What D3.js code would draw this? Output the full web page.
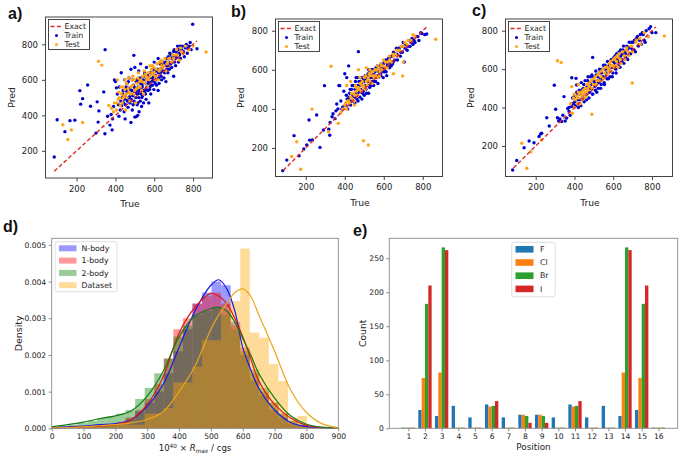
<!DOCTYPE html>
<html><head><meta charset="utf-8">
<script src="https://cdn.jsdelivr.net/npm/d3@7"></script>
<style>body{margin:0;background:#fff}</style>
</head><body>
<script>
// ---------------- DATA ----------------
const exactLine = [85, 820];
const trainA = [[85,165],[100,375],[140,308],[166,370],[191,373],[217,539],[221,463],[231,494],[257,571],[272,451],[300,300],[306,476],[311,362],[315,425],[340,532],[346,296],[347,770],[383,318],[360,395],[372,345],[378,405],[385,380],[390,450],[395,600],[400,590],[405,555],[410,520],[415,460],[418,395],[420,560],[425,430],[428,480],[430,640],[435,500],[440,540],[442,470],[445,420],[448,600],[450,510],[452,460],[455,560],[458,490],[460,580],[462,530],[465,445],[468,500],[470,610],[472,555],[475,470],[478,520],[480,660],[482,490],[485,540],[487,430],[490,510],[492,570],[495,738],[496,480],[498,530],[500,390],[500,670],[502,550],[505,500],[508,393],[510,600],[512,460],[514,520],[515,400],[517,560],[520,650],[520,500],[522,420],[525,540],[528,480],[530,690],[530,580],[533,520],[535,450],[538,560],[540,510],[543,600],[545,470],[548,540],[550,640],[552,580],[555,520],[558,490],[560,670],[562,560],[565,600],[568,540],[570,580],[572,470],[575,620],[578,560],[580,610],[582,520],[585,590],[588,640],[590,570],[595,600],[598,545],[600,700],[602,630],[605,580],[610,650],[615,600],[620,720],[622,640],[625,580],[630,660],[635,620],[640,690],[645,650],[650,610],[655,680],[660,700],[665,660],[670,640],[675,700],[680,750],[685,690],[690,670],[695,720],[700,760],[705,700],[710,680],[715,730],[720,790],[725,700],[730,740],[735,720],[740,770],[750,760],[755,730],[760,780],[770,750],[780,790],[790,770],[798,913],[820,775],[480,360],[450,380],[620,540],[660,590],[700,620],
[432,455],[438,520],[446,490],[454,540],[463,480],[467,590],[473,505],[477,545],[483,515],[488,600],[491,460],[497,560],[503,525],[507,590],[511,540],[516,470],[519,590],[523,525],[527,610],[532,555],[536,500],[541,575],[546,620],[551,535],[556,600],[561,545],[566,625],[571,590],[576,545],[581,640],[586,570],[591,615],[596,660],[601,590],[607,625],[612,570],[617,660],[623,610],[628,690],[633,640],[638,600],[643,670],[648,700],[653,640],[658,690],[663,720],[668,680],[673,730],[678,660],[683,720],[688,740],[693,700],[698,730],[703,770],[708,720],[713,760],[718,740],[723,770],[728,750],[733,790],[745,790],[765,800],[775,780],[785,810]];
const testA = [[130,347],[155,264],[173,318],[231,360],[313,704],[330,683],[867,757],[366,456],[380,440],[390,420],[395,470],[405,430],[410,600],[415,490],[420,500],[425,455],[430,520],[435,470],[440,560],[445,510],[450,600],[452,430],[455,520],[460,500],[465,550],[470,530],[475,480],[480,560],[485,600],[490,620],[495,520],[500,540],[505,470],[510,580],[515,610],[520,560],[525,590],[530,600],[535,540],[540,620],[545,520],[550,580],[555,630],[560,600],[565,560],[570,640],[575,600],[580,620],[585,660],[590,680],[595,630],[600,640],[605,600],[610,660],[615,690],[620,600],[625,650],[630,660],[635,710],[640,700],[645,670],[650,680],[660,650],[665,690],[670,700],[680,720],[690,700],[700,720],[710,740],[720,740],[730,710],[740,760],[750,750],[760,790],[780,770],[800,790],
[408,470],[418,530],[428,560],[438,495],[448,545],[458,580],[468,610],[478,520],[488,570],[498,600],[508,550],[518,640],[528,560],[538,590],[548,650],[558,620],[568,610],[578,680],[588,640],[598,670],[608,620],[618,690],[628,700],[638,680],[655,720],[675,720],[695,740],[715,770],[735,780]];
const trainB = [[82,84],[103,138],[140,263],[166,160],[190,195],[205,215],[220,240],[234,241],[217,343],[256,369],[273,203],[291,292],[296,519],[318,296],[323,265],[325,330],[335,360],[340,375],[350,350],[355,390],[359,425],[365,400],[370,520],[374,519],
[380,440],[385,400],[390,410],[395,490],[400,580],[405,420],[410,560],[412,450],[415,400],[420,620],[422,460],[425,480],[430,420],[435,500],[440,440],[442,470],[445,520],[450,460],[452,430],[455,540],[460,480],[462,450],[465,560],[468,440],[470,693],[472,490],[475,520],[478,460],[480,540],[482,500],[485,530],[488,450],[490,520],[493,560],[495,490],[498,540],[500,470],[502,520],[505,570],[508,500],[510,550],[512,480],[515,560],[518,520],[520,580],[522,480],[525,540],[528,510],[530,590],[532,560],[535,520],[538,570],[540,540],[545,600],[548,520],[550,560],[555,590],[558,540],[560,610],[565,570],[568,610],[570,530],[575,590],[580,620],[585,570],[590,610],[595,590],[600,630],[605,590],[610,650],[615,570],[620,630],[625,660],[630,610],[640,670],[645,630],[650,690],[655,650],[660,680],[665,710],[670,650],[680,700],[685,670],[690,720],[695,690],[700,740],[705,640],[710,710],[720,700],[730,750],[735,720],[740,740],[750,730],[760,740],[770,770],[780,750],[790,790],[795,786],[810,780],[820,783],[560,560],[620,620],[580,590],[540,540],[600,600],
[402,420],[408,470],[418,450],[428,500],[432,440],[438,520],[447,470],[453,500],[458,560],[463,520],[467,480],[473,540],[477,500],[483,560],[487,520],[492,480],[497,550],[503,540],[507,500],[513,570],[517,540],[523,600],[527,520],[533,540],[537,600],[542,560],[547,580],[552,540],[557,600],[562,570],[567,620],[572,560],[577,610],[582,580],[587,630],[592,600],[597,560],[603,640],[607,610],[612,590],[618,650],[622,620],[628,660],[633,630],[638,620],[643,670],[648,640],[658,680],[668,680],[678,710],[688,690],[698,720],[712,730],[725,720],[745,760],[755,750],[765,770],[775,770]];
const testB = [[128,156],[154,232],[174,91],[232,399],[316,283],[330,618],[367,326],[496,237],[521,215],[697,568],[866,756],
[380,380],[390,400],[400,420],[410,400],[420,440],[425,430],[430,460],[440,450],[445,480],[450,470],[455,520],[460,490],[465,470],[470,510],[475,500],[480,530],[485,490],[490,540],[495,520],[500,560],[505,500],[510,540],[515,520],[520,560],[525,580],[530,540],[535,570],[540,530],[545,590],[550,560],[555,600],[560,570],[565,600],[570,560],[575,610],[580,590],[585,630],[590,600],[600,620],[610,610],[620,640],[630,650],[640,640],[650,670],[660,680],[670,670],[680,700],[700,720],[720,730],[740,750],[760,770],[650,580],[700,640],[450,420],[410,520],[430,540],[470,600],[510,610],
[405,430],[415,440],[435,480],[448,440],[458,510],[468,500],[478,560],[488,520],[498,510],[508,570],[518,550],[528,600],[538,590],[548,570],[558,600],[568,620],[578,570],[588,620],[598,650],[608,640],[618,610],[628,670],[648,680],[668,700],[688,720],[708,740],[725,750],[750,780]];
const trainC = [[81,75],[102,124],[140,191],[166,226],[191,217],[217,249],[225,262],[231,266],[257,347],[270,304],[296,516],[303,391],[312,347],[318,330],[325,340],[334,327],[340,360],[346,457],[352,330],[360,345],[365,395],[372,400],[378,360],[385,420],[386,555],[390,450],[395,420],
[400,455],[405,410],[408,552],[411,517],[415,470],[420,400],[425,490],[430,440],[435,530],[440,460],[445,500],[450,430],[455,540],[460,470],[465,510],[470,560],[475,450],[480,530],[485,500],[490,570],[494,661],[495,470],[500,540],[505,510],[510,590],[515,480],[520,560],[525,530],[530,600],[535,500],[540,580],[545,550],[550,620],[555,520],[560,600],[565,570],[570,640],[575,550],[580,620],[585,590],[590,650],[595,560],[600,640],[605,610],[610,670],[615,580],[620,650],[625,620],[630,690],[635,610],[640,670],[645,640],[650,700],[655,630],[660,690],[665,660],[670,720],[675,650],[680,710],[690,680],[695,740],[700,700],[710,750],[715,690],[720,760],[730,720],[740,780],[745,730],[750,790],[760,750],[770,800],[780,770],[793,821],[800,790],[820,790],[385,405],[398,455],[372,380],[420,420],
[402,430],[412,480],[418,440],[428,470],[433,410],[438,490],[443,450],[448,520],[453,470],[458,500],[463,440],[468,540],[473,500],[478,480],[483,560],[488,520],[493,470],[498,560],[503,530],[508,490],[513,570],[518,540],[523,500],[528,580],[533,550],[538,520],[543,600],[548,560],[553,530],[558,620],[563,580],[568,550],[573,610],[578,600],[583,560],[588,640],[593,610],[598,580],[603,660],[608,630],[613,600],[618,680],[623,640],[628,610],[633,660],[638,700],[643,650],[648,680],[653,720],[663,680],[673,700],[683,740],[693,710],[703,740],[708,700],[725,770],[735,750],[755,780],[765,740],[785,810]];
const testC = [[128,214],[154,84],[174,170],[231,231],[312,644],[331,635],[490,365],[698,528],[864,772],[386,509],[398,470],[420,520],
[380,420],[390,370],[395,450],[400,400],[410,460],[415,420],[420,450],[430,420],[435,480],[440,440],[445,490],[450,450],[455,500],[460,460],[465,520],[470,490],[480,530],[490,500],[500,550],[510,520],[520,570],[530,540],[540,590],[550,550],[560,610],[570,570],[580,630],[590,590],[600,650],[605,610],[610,660],[615,620],[620,670],[625,610],[630,680],[640,630],[650,690],[660,650],[670,710],[680,670],[690,720],[700,690],[720,750],[740,730],[760,790],[780,770],[420,480],[575,590],[585,615],
[405,440],[425,470],[437,460],[447,470],[457,480],[467,500],[477,510],[487,540],[497,520],[507,560],[517,540],[527,580],[537,560],[547,600],[557,580],[567,610],[577,600],[587,640],[597,620],[607,650],[617,640],[627,660],[637,650],[647,690],[657,670],[667,700],[677,690],[697,720],[717,740],[737,760]];
const scatterTicks = [200, 400, 600, 800];

// panel d
const modelBinLeft = [22,52,82,112,142,172,202,232,262,292,322,352,382,412,442,472,502,532,562,592,622,652,682,712,742,772,802,832];
const histNbody = [0,0.00003,0.00005,0.00008,0.0001,0.00012,0.00016,0.00025,0.00045,0.0007,0.001,0.0015,0.0021,0.0027,0.0034,0.0037,0.0040,0.0039,0.0029,0.0020,0.0013,0.0009,0.0005,0.0003,0.00012,0.00006,0.00002,0];
const hist1body = [0,0.00002,0.00003,0.00005,0.00007,0.0001,0.00015,0.0003,0.0005,0.0008,0.0012,0.0019,0.0027,0.003,0.0034,0.0036,0.0037,0.0034,0.0028,0.0022,0.0015,0.001,0.0007,0.0004,0.0002,0.00008,0.00003,0];
const hist2body = [0.00005,0.0001,0.00015,0.0002,0.00028,0.00032,0.0004,0.0005,0.0008,0.0011,0.0015,0.0019,0.0025,0.0028,0.0031,0.0032,0.0033,0.0031,0.0027,0.0021,0.0016,0.0011,0.0007,0.0004,0.0002,0.0001,0.00003,0];
const dataBinLeft = [82,112,142,172,202,232,262,292,322,352,382,412,442,472,502,532,562,592,622,652,682,712,742,772,802,832];
const histDataset = [0.00003,0.00005,0.0001,0.0001,0.0001,0.0001,0.0001,0.0004,0.0004,0.00055,0.00125,0.00125,0.00168,0.0024,0.0024,0.0033,0.00347,0.0049,0.00261,0.00247,0.00175,0.00129,0.00029,0.00034,0,0.00003];
const binWidth = 30;
const kdeX = [0,50,100,150,200,250,300,350,400,450,500,525,550,575,600,625,650,700,750,800,850,900];
const kdeNbody = [0.00002,0.00004,0.00006,0.0001,0.00013,0.00024,0.0006,0.0012,0.0022,0.0032,0.0039,0.00405,0.0038,0.0032,0.0022,0.0016,0.0011,0.0005,0.00016,0.00005,0.00001,0];
const kde1body = [0.00001,0.00002,0.00004,0.00006,0.0001,0.00024,0.00065,0.0014,0.0026,0.0033,0.00368,0.0036,0.0034,0.003,0.0025,0.0019,0.0013,0.00065,0.00028,0.00008,0.00002,0];
const kde2body = [0.00004,0.0001,0.00017,0.00026,0.00034,0.00048,0.00088,0.00155,0.0025,0.00306,0.00326,0.0033,0.0032,0.0029,0.00245,0.002,0.0015,0.00082,0.00034,0.00011,0.00003,0.00001];
const kdeDataset = [0.00001,0.00002,0.00004,0.00007,0.0001,0.00015,0.00024,0.00045,0.001,0.0017,0.0027,0.0031,0.0034,0.0037,0.0038,0.0036,0.0031,0.0021,0.00105,0.00043,0.00012,0.00002];
const distLabels = ["N-body","1-body","2-body","Dataset"];
const dTicksX = [0,100,200,300,400,500,600,700,800,900];
const dTicksY = [0,0.001,0.002,0.003,0.004,0.005];

// panel e
const positions = [1,2,3,4,5,6,7,8,9,10,11,12,13,14,15,16];
const halogens = ["F","Cl","Br","I"];
const countF  = [1,27,18,33,16,35,16,20,20,16,35,16,33,18,27,1];
const countCl = [1,74,82,1,1,32,1,20,20,1,32,1,1,82,74,1];
const countBr = [1,183,266,1,1,33,1,18,18,1,33,1,1,266,183,1];
const countI  = [1,210,262,1,1,40,1,8,8,1,40,1,1,262,210,1];
const eTicksY = [0,50,100,150,200,250];

// ---------------- DRAW ----------------
const FONT = '"DejaVu Sans", sans-serif';
const svg = d3.select("body").append("svg").attr("width",693).attr("height",456)
  .style("font-family",FONT);

function styleAxis(g, color, fs){
  g.attr("font-family",FONT).attr("font-size",fs);
  g.select(".domain").remove();
  g.selectAll(".tick line").attr("stroke",color);
  g.selectAll(".tick text").attr("fill","#222");
}
function frame(l,t,r,b,color,w){
  svg.append("rect").attr("x",l).attr("y",t).attr("width",r-l).attr("height",b-t)
    .attr("fill","none").attr("stroke",color).attr("stroke-width",w);
}

function scatterPanel(o){
  const x = d3.scaleLinear().domain(o.xd).range([o.l,o.r]);
  const y = d3.scaleLinear().domain(o.yd).range([o.b,o.t]);
  const g = svg.append("g");
  g.selectAll("circle.tr").data(o.train).join("circle").attr("class","tr")
    .attr("cx",d=>x(d[0])).attr("cy",d=>y(d[1])).attr("r",1.7).attr("fill","#0000cc");
  g.selectAll("circle.te").data(o.test).join("circle").attr("class","te")
    .attr("cx",d=>x(d[0])).attr("cy",d=>y(d[1])).attr("r",1.7).attr("fill","#ffa51a");
  g.append("line").attr("x1",x(exactLine[0])).attr("y1",y(exactLine[0]))
    .attr("x2",x(exactLine[1])).attr("y2",y(exactLine[1]))
    .attr("stroke","#dd2a2a").attr("stroke-width",1.4).attr("stroke-dasharray","4,2.4");
  frame(o.l,o.t,o.r,o.b,"#444",1);
  const ax = svg.append("g").attr("transform",`translate(0,${o.b})`)
    .call(d3.axisBottom(x).tickValues(scatterTicks).tickSize(3.5).tickPadding(4));
  styleAxis(ax,"#444",8.5);
  const ay = svg.append("g").attr("transform",`translate(${o.l},0)`)
    .call(d3.axisLeft(y).tickValues(scatterTicks).tickSize(3.5).tickPadding(4));
  styleAxis(ay,"#444",8.5);
  svg.append("text").attr("x",(o.l+o.r)/2+1).attr("y",o.b+29).attr("text-anchor","middle")
    .attr("font-size",9.2).attr("fill","#222").text("True");
  svg.append("text").attr("transform",`translate(${o.py},${(o.t+o.b)/2}) rotate(-90)`)
    .attr("text-anchor","middle").attr("dy","0.35em").attr("font-size",9.2).attr("fill","#222").text("Pred");
  // legend
  const lx=o.l+3, ly=o.t+2.5;
  svg.append("rect").attr("x",lx).attr("y",ly).attr("width",41).attr("height",30)
    .attr("fill","#fff").attr("stroke","#333").attr("stroke-width",0.9);
  svg.append("line").attr("x1",lx+2).attr("x2",lx+14).attr("y1",ly+7).attr("y2",ly+7)
    .attr("stroke","#dd2a2a").attr("stroke-width",1.4).attr("stroke-dasharray","4,2.4");
  svg.append("circle").attr("cx",lx+8).attr("cy",ly+16).attr("r",1.5).attr("fill","#0000cc");
  svg.append("circle").attr("cx",lx+8).attr("cy",ly+25).attr("r",1.5).attr("fill","#ffa51a");
  ["Exact","Train","Test"].forEach((t,i)=>{
    svg.append("text").attr("x",lx+16).attr("y",ly+7+9*i).attr("dy","0.35em")
      .attr("font-size",7.8).attr("fill","#222").text(t);
  });
  svg.append("text").attr("x",o.lab[0]).attr("y",o.lab[1]).attr("font-family","Liberation Sans, Arial, sans-serif")
    .attr("font-weight","bold").attr("font-size",16).attr("fill","#111").text(o.label);
}

scatterPanel({l:45.5,r:212.5,t:17,b:178,xd:[40,900],yd:[47,954],train:trainA,test:testA,py:12,lab:[8,19],label:"a)"});
scatterPanel({l:275.5,r:442.5,t:19,b:176.5,xd:[45,901],yd:[54,860],train:trainB,test:testB,py:241,lab:[231,16.5],label:"b)"});
scatterPanel({l:505.5,r:672.5,t:19,b:176.5,xd:[44,906],yd:[41,861],train:trainC,test:testC,py:470.5,lab:[472,16],label:"c)"});

// ---- panel d ----
(function(){
  const l=51.7,r=338.3,t=238.3,b=428.3;
  const x = d3.scaleLinear().domain([0,900]).range([l,r]);
  const y = d3.scaleLinear().domain([0,0.00518]).range([b,t]);
  const cols = ["#0000ff","#ff0000","#008000","#ffa500"];
  const lineCols = ["#1a1ae0","#e01a1a","#137a13","#eba619"];
  const hists = [[modelBinLeft,histNbody],[modelBinLeft,hist1body],[modelBinLeft,hist2body],[dataBinLeft,histDataset]];
  hists.forEach(([bins,vals],k)=>{
    svg.append("g").selectAll("rect").data(vals).join("rect")
      .attr("x",(d,i)=>x(bins[i])).attr("width",(d,i)=>x(bins[i]+binWidth)-x(bins[i]))
      .attr("y",d=>y(d)).attr("height",d=>y(0)-y(d))
      .attr("fill",cols[k]).attr("fill-opacity",0.4);
  });
  const kdes=[kdeNbody,kde1body,kde2body,kdeDataset];
  kdes.forEach((arr,k)=>{
    const line=d3.line().x((d,i)=>x(kdeX[i])).y(d=>y(d)).curve(d3.curveCatmullRom);
    svg.append("path").attr("d",line(arr)).attr("fill","none").attr("stroke",lineCols[k]).attr("stroke-width",1.2);
  });
  frame(l,t,r,b,"#8a8a8a",0.9);
  const ax = svg.append("g").attr("transform",`translate(0,${b})`)
    .call(d3.axisBottom(x).tickValues(dTicksX).tickSize(3).tickPadding(2));
  styleAxis(ax,"#8a8a8a",7.6);
  const ay = svg.append("g").attr("transform",`translate(${l},0)`)
    .call(d3.axisLeft(y).tickValues(dTicksY).tickFormat(d3.format(".3f")).tickSize(3).tickPadding(2.5));
  styleAxis(ay,"#8a8a8a",7.6);
  // labels
  const xl = svg.append("text").attr("x",(l+r)/2).attr("y",451).attr("text-anchor","middle")
    .attr("font-size",8.6).attr("fill","#222");
  xl.append("tspan").text("10");
  xl.append("tspan").attr("dy",-3).attr("font-size",5.8).text("40");
  xl.append("tspan").attr("dy",3).text(" × ");
  xl.append("tspan").attr("font-style","italic").text("R");
  xl.append("tspan").attr("dy",1.8).attr("font-size",5.8).attr("font-style","italic").text("max");
  xl.append("tspan").attr("dy",-1.8).text(" / cgs");
  svg.append("text").attr("transform",`translate(18.5,${(t+b)/2}) rotate(-90)`).attr("text-anchor","middle")
    .attr("dy","0.35em").attr("font-size",9.4).attr("fill","#222").text("Density");
  // legend
  svg.append("rect").attr("x",55).attr("y",241.7).attr("width",62).attr("height",50).attr("rx",2)
    .attr("fill","#fff").attr("fill-opacity",0.8).attr("stroke","#d5d5d5").attr("stroke-width",0.8);
  distLabels.forEach((lab,i)=>{
    const yy = 248.3 + i*12.3;
    svg.append("rect").attr("x",59).attr("y",yy-3).attr("width",17.5).attr("height",6)
      .attr("fill",cols[i]).attr("fill-opacity",0.4);
    svg.append("text").attr("x",81.5).attr("y",yy).attr("dy","0.35em").attr("font-size",7.8).attr("fill","#222").text(lab);
  });
  svg.append("text").attr("x",3).attr("y",232).attr("font-family","Liberation Sans, Arial, sans-serif")
    .attr("font-weight","bold").attr("font-size",16).attr("fill","#111").text("d)");
})();

// ---- panel e ----
(function(){
  const l=389.3,r=677.7,t=238.3,b=428.3;
  const x = d3.scaleLinear().domain([-0.14,17.16]).range([l,r]);
  const y = d3.scaleLinear().domain([0,279.4]).range([b,t]);
  const cols = ["#1f77b4","#ff7f0e","#2ca02c","#d62728"];
  const series = [countF,countCl,countBr,countI];
  const bw = 0.2, offs = [-0.3,-0.1,0.1,0.3];
  series.forEach((vals,k)=>{
    svg.append("g").selectAll("rect").data(vals).join("rect")
      .attr("x",(d,i)=>x(positions[i]+offs[k]-bw/2)).attr("width",x(bw)-x(0))
      .attr("y",d=>y(d)).attr("height",d=>y(0)-y(d)).attr("fill",cols[k]);
  });
  frame(l,t,r,b,"#8a8a8a",0.9);
  const ax = svg.append("g").attr("transform",`translate(0,${b})`)
    .call(d3.axisBottom(x).tickValues(positions).tickSize(3).tickPadding(2));
  styleAxis(ax,"#8a8a8a",7.6);
  const ay = svg.append("g").attr("transform",`translate(${l},0)`)
    .call(d3.axisLeft(y).tickValues(eTicksY).tickSize(3).tickPadding(2.5));
  styleAxis(ay,"#8a8a8a",7.6);
  svg.append("text").attr("x",(l+r)/2).attr("y",450).attr("text-anchor","middle")
    .attr("font-size",8.8).attr("fill","#222").text("Position");
  svg.append("text").attr("transform",`translate(363,${(t+b)/2}) rotate(-90)`).attr("text-anchor","middle")
    .attr("dy","0.35em").attr("font-size",9.2).attr("fill","#222").text("Count");
  svg.append("rect").attr("x",511.7).attr("y",242.3).attr("width",43.5).attr("height",54.5).attr("rx",2)
    .attr("fill","#fff").attr("stroke","#d5d5d5").attr("stroke-width",0.8);
  halogens.forEach((lab,i)=>{
    const yy = 249.3 + i*13.2;
    svg.append("rect").attr("x",515.5).attr("y",yy-3.3).attr("width",18).attr("height",6.6).attr("fill",cols[i]);
    svg.append("text").attr("x",540).attr("y",yy).attr("dy","0.35em").attr("font-size",7.8).attr("fill","#222").text(lab);
  });
  svg.append("text").attr("x",353).attr("y",235.5).attr("font-family","Liberation Sans, Arial, sans-serif")
    .attr("font-weight","bold").attr("font-size",16).attr("fill","#111").text("e)");
})();
</script>
</body></html>
